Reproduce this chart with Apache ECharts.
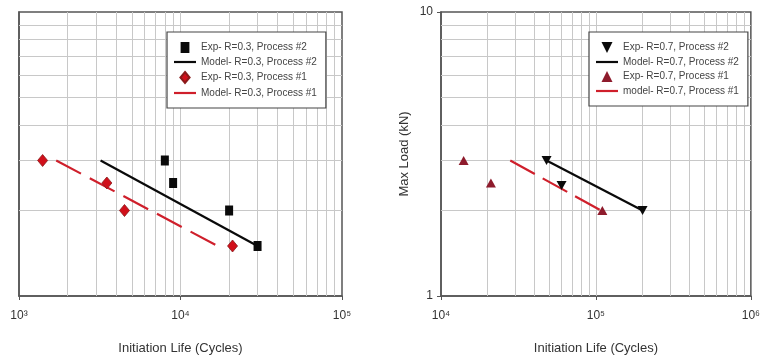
<!DOCTYPE html>
<html><head><meta charset="utf-8">
<script src="https://cdn.jsdelivr.net/npm/echarts@6/dist/echarts.min.js"></script>
<style>html,body{margin:0;padding:0;background:#fff;overflow:hidden;width:763px;height:360px}#c{width:763px;height:360px;display:block}</style>
</head><body><div id="c"></div>
<script>
// ---- data ----
const leftXTicks = [1000, 10000, 100000];
const rightXTicks = [10000, 100000, 1000000];
const minorMult = [2, 3, 4, 5, 6, 7, 8, 9];
const yMinor = [2, 3, 4, 5, 6, 7, 8, 9];

const expP2L_x = [8000, 9000, 20000, 30000];
const expP2L_y = [3, 2.5, 2, 1.5];
const modelP2L_x = [3200, 30000];
const modelP2L_y = [3, 1.5];
const expP1L_x = [1400, 3500, 4500, 21000];
const expP1L_y = [3, 2.5, 2, 1.5];
const modelP1L_x = [1700, 17000];
const modelP1L_y = [3, 1.5];

const expP2R_x = [48000, 60000, 200000];
const expP2R_y = [3, 2.45, 2];
const modelP2R_x = [48000, 200000];
const modelP2R_y = [3, 2];
const expP1R_x = [14000, 21000, 110000];
const expP1R_y = [3, 2.5, 2];
const modelP1R_x = [28000, 108000];
const modelP1R_y = [3, 2];

const namesL = ['Exp- R=0.3, Process #2', 'Model- R=0.3, Process #2', 'Exp- R=0.3, Process #1', 'Model- R=0.3, Process #1'];
const namesR = ['Exp- R=0.7, Process #2', 'Model- R=0.7, Process #2', 'Exp- R=0.7, Process #1', 'model- R=0.7, Process #1'];

const zip = (a, b) => a.map((v, i) => [v, b[i]]);
const sup = {'0':'⁰','1':'¹','2':'²','3':'³','4':'⁴','5':'⁵','6':'⁶','7':'⁷','8':'⁸','9':'⁹'};
const fmtPow = v => { const e = Math.round(Math.log10(v)); return '10' + String(e).split('').map(c => sup[c]).join(''); };

const RED = '#cf1f2b', DKRED = '#8e1b2c', BLACK = '#0a0a0a', DRED = '#d10f1a';
const ICON_SQ = 'path://M0,0H8V10H0Z';
const ICON_DIA = 'path://M5,0L10,6L5,12L0,6Z';
const ICON_UP = 'path://M5,0L10,10L0,10Z';
const ICON_DN = 'path://M0,0L10,0L5,10Z';
const ICON_LINE = 'path://M0,0H24V2.4H0Z';

function minorX(decades) {
  const out = [];
  decades.slice(0, -1).forEach(d => minorMult.forEach(m => out.push({xAxis: d * m})));
  out.push({xAxis: decades[1]});
  return out;
}
function gridLines(xi, decades) {
  return {
    type: 'line', xAxisIndex: xi, yAxisIndex: xi, data: [], silent: true, z: 1,
    markLine: {
      silent: true, symbol: 'none', label: {show: false}, animation: false, z: 1,
      lineStyle: {color: '#c8c8c8', width: 1, type: 'solid'},
      data: minorX(decades).concat(yMinor.map(v => ({yAxis: v})))
    }
  };
}

const fontA = "'Liberation Sans',Arial,sans-serif";

function xAxis(gi, min, max) {
  return {
    type: 'log', logBase: 10, gridIndex: gi, min: min, max: max,
    name: 'Initiation Life (Cycles)', nameLocation: 'middle', nameGap: 46,
    nameTextStyle: {fontFamily: fontA, fontSize: 13, color: '#333'},
    axisLine: {lineStyle: {color: '#555', width: 1.5}},
    axisTick: {show: true, length: 4, inside: false, lineStyle: {color: '#555'}},
    axisLabel: {formatter: fmtPow, fontFamily: fontA, fontSize: 12, color: '#333', margin: 14},
    splitLine: {show: false}, minorSplitLine: {show: false}
  };
}
function yAxis(gi, showLabels) {
  return {
    type: 'log', logBase: 10, gridIndex: gi, min: 1, max: 10,
    name: showLabels ? 'Max Load (kN)' : '', nameLocation: 'middle', nameGap: 30,
    nameTextStyle: {fontFamily: fontA, fontSize: 13, color: '#333'},
    axisLine: {lineStyle: {color: '#555', width: 1.5}},
    axisTick: {show: showLabels, length: 4, lineStyle: {color: '#555'}},
    axisLabel: {show: showLabels, fontFamily: fontA, fontSize: 12, color: '#333', margin: 8},
    splitLine: {show: false}
  };
}
function legend(left, names, icons, colors) {
  return {
    left: left, top: 32, orient: 'vertical', zlevel: 2, z: 20,
    backgroundColor: '#fff', borderColor: '#444', borderWidth: 1.2,
    padding: [10, 9, 10, 7], itemGap: 4, itemWidth: 22, itemHeight: 11, itemTextGap: 5,
    textStyle: {fontFamily: fontA, fontSize: 10, color: '#444'},
    data: names.map((n, i) => ({name: n, icon: icons[i], itemStyle: {color: colors[i], opacity: 1}}))
  };
}

const chart = echarts.init(document.getElementById('c'), null, {renderer: 'canvas', width: 763, height: 360});
chart.setOption({
  animation: false,
  backgroundColor: '#fff',
  grid: [
    {left: 19, top: 12, width: 323, height: 287, show: true, borderColor: '#555', borderWidth: 1.5, backgroundColor: 'transparent'},
    {left: 441, top: 12, width: 322, height: 287, show: true, borderColor: '#555', borderWidth: 1.5, backgroundColor: 'transparent'}
  ],
  xAxis: [xAxis(0, leftXTicks[0], leftXTicks[2]), xAxis(1, rightXTicks[0], rightXTicks[2])],
  yAxis: [yAxis(0, false), yAxis(1, true)],
  legend: [
    legend(167, namesL, [ICON_SQ, ICON_LINE, ICON_DIA, ICON_LINE], [BLACK, BLACK, DRED, RED]),
    legend(589, namesR, [ICON_DN, ICON_LINE, ICON_UP, ICON_LINE], [BLACK, BLACK, DKRED, RED])
  ],
  series: [
    gridLines(0, leftXTicks),
    gridLines(1, rightXTicks),
    {name: namesL[0], type: 'scatter', xAxisIndex: 0, yAxisIndex: 0, data: zip(expP2L_x, expP2L_y),
     symbol: 'rect', symbolSize: [8, 10], itemStyle: {color: BLACK, opacity: 1}, z: 5},
    {name: namesL[1], type: 'line', xAxisIndex: 0, yAxisIndex: 0, data: zip(modelP2L_x, modelP2L_y),
     symbol: 'none', lineStyle: {color: BLACK, width: 2.2}, itemStyle: {color: BLACK}, z: 4},
    {name: namesL[2], type: 'scatter', xAxisIndex: 0, yAxisIndex: 0, data: zip(expP1L_x, expP1L_y),
     symbol: 'diamond', symbolSize: [10, 12], itemStyle: {color: DRED, borderColor: '#8a1a1a', borderWidth: 0.8, opacity: 1}, z: 5},
    {name: namesL[3], type: 'line', xAxisIndex: 0, yAxisIndex: 0, data: zip(modelP1L_x, modelP1L_y),
     symbol: 'none', lineStyle: {color: RED, width: 2.2, type: [28, 10]}, itemStyle: {color: RED}, z: 4},

    {name: namesR[0], type: 'scatter', xAxisIndex: 1, yAxisIndex: 1, data: zip(expP2R_x, expP2R_y),
     symbol: 'triangle', symbolRotate: 180, symbolSize: [10, 9], itemStyle: {color: BLACK, opacity: 1}, z: 5},
    {name: namesR[1], type: 'line', xAxisIndex: 1, yAxisIndex: 1, data: zip(modelP2R_x, modelP2R_y),
     symbol: 'none', lineStyle: {color: BLACK, width: 2.2}, itemStyle: {color: BLACK}, z: 4},
    {name: namesR[2], type: 'scatter', xAxisIndex: 1, yAxisIndex: 1, data: zip(expP1R_x, expP1R_y),
     symbol: 'triangle', symbolSize: [10, 9], itemStyle: {color: DKRED, opacity: 1}, z: 5},
    {name: namesR[3], type: 'line', xAxisIndex: 1, yAxisIndex: 1, data: zip(modelP1R_x, modelP1R_y),
     symbol: 'none', lineStyle: {color: RED, width: 2.2, type: [28, 9]}, itemStyle: {color: RED}, z: 4}
  ]
});
</script>
</body></html>
